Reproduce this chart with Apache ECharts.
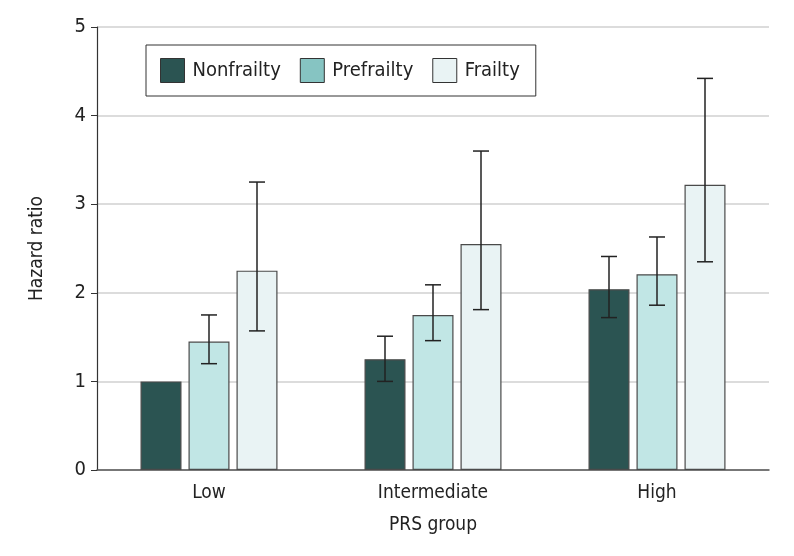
<!DOCTYPE html>
<html>
<head>
<meta charset="utf-8">
<script src="https://cdn.jsdelivr.net/npm/echarts@6/dist/echarts.min.js"></script>
<style>
  html, body { margin: 0; padding: 0; background: #fff; }
  #main { width: 794px; height: 556px; }
</style>
</head>
<body>
<div id="main"></div>
<script>
// data
var groups = ['Low', 'Intermediate', 'High'];
var seriesNames = ['Nonfrailty', 'Prefrailty', 'Frailty'];
var nonfrailty = [1.0, 1.25, 2.04];
var prefrailty = [1.45, 1.75, 2.21];
var frailty = [2.25, 2.55, 3.22];
// confidence intervals [low, high]; the reference group has none
var nonfrailtyCI = [null, [1.0, 1.51], [1.72, 2.41]];
var prefrailtyCI = [[1.2, 1.75], [1.46, 2.09], [1.86, 2.63]];
var frailtyCI = [[1.57, 3.25], [1.81, 3.6], [2.35, 4.42]];

var barColors = ['#2b5452', '#c1e6e5', '#e9f3f4'];
var legendColors = ['#2b5452', '#86c4c2', '#e9f3f4'];
var BAR_W = 41, GAP = 7;
var font = '"DejaVu Sans Condensed", "Noto Sans", sans-serif';

var values = [nonfrailty, prefrailty, frailty];
var cis = [nonfrailtyCI, prefrailtyCI, frailtyCI];

var series = [];
values.forEach(function (v, i) {
  series.push({
    name: seriesNames[i],
    type: 'bar',
    data: v,
    barWidth: BAR_W,
    barGap: (GAP / BAR_W * 100) + '%',
    itemStyle: { color: barColors[i], borderColor: '#4a4a4a', borderWidth: 1.2 },
    z: 2
  });
});

// error bars drawn as custom series, shifted to sit over each bar
cis.forEach(function (ci, i) {
  var off = (i - 1) * (BAR_W + GAP);
  var rows = [];
  ci.forEach(function (c, k) { if (c) rows.push([k, c[0], c[1]]); });
  series.push({
    type: 'custom',
    data: rows,
    z: 5,
    silent: true,
    renderItem: function (params, api) {
      var lo = api.coord([api.value(0), api.value(1)]);
      var hi = api.coord([api.value(0), api.value(2)]);
      var x = lo[0] + off;
      var cap = 8;
      var st = { stroke: '#222', lineWidth: 1.5 };
      return {
        type: 'group',
        children: [
          { type: 'line', shape: { x1: x, y1: lo[1], x2: x, y2: hi[1] }, style: st },
          { type: 'line', shape: { x1: x - cap, y1: lo[1], x2: x + cap, y2: lo[1] }, style: st },
          { type: 'line', shape: { x1: x - cap, y1: hi[1], x2: x + cap, y2: hi[1] }, style: st }
        ]
      };
    }
  });
});

var chart = echarts.init(document.getElementById('main'));
chart.setOption({
  animation: false,
  backgroundColor: '#fff',
  textStyle: { fontFamily: font },
  grid: { left: 97, right: 25, top: 27, bottom: 86 },
  legend: {
    left: 146,
    top: 45,
    icon: 'rect',
    data: seriesNames.map(function (n, i) {
      return { name: n, itemStyle: { color: legendColors[i], borderColor: '#333', borderWidth: 1 } };
    }),
    itemWidth: 24,
    itemHeight: 24,
    itemGap: 19,
    padding: [13, 16, 13, 14],
    borderColor: '#333',
    borderWidth: 1,
    textStyle: { fontSize: 20, color: '#222', fontFamily: font, padding: [0, 0, 0, 3] }
  },
  xAxis: {
    type: 'category',
    data: groups,
    name: 'PRS group',
    nameLocation: 'middle',
    nameGap: 46,
    nameTextStyle: { fontSize: 19, color: '#222' },
    axisLine: { lineStyle: { color: '#555', width: 1.5 } },
    axisTick: { show: false },
    axisLabel: { fontSize: 19, color: '#222', margin: 14 }
  },
  yAxis: {
    type: 'value',
    min: 0,
    max: 5,
    interval: 1,
    name: 'Hazard ratio',
    nameLocation: 'middle',
    nameGap: 50,
    nameTextStyle: { fontSize: 19, color: '#222' },
    axisLine: { show: true, lineStyle: { color: '#333', width: 1.2 } },
    axisTick: { show: true, length: 6, lineStyle: { color: '#333' } },
    axisLabel: { fontSize: 20, color: '#222', margin: 11 },
    splitLine: { lineStyle: { color: '#dcdcdc', width: 2 } }
  },
  series: series
});
</script>
</body>
</html>
